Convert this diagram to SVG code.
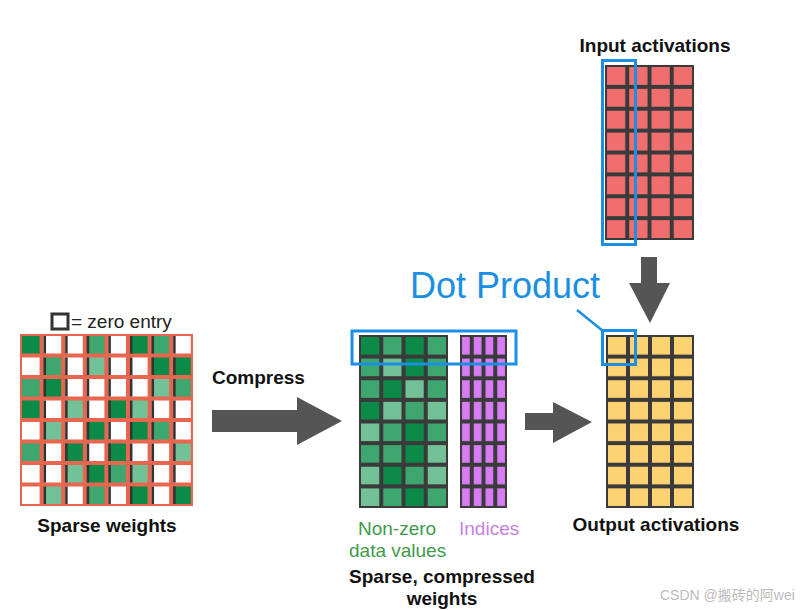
<svg xmlns="http://www.w3.org/2000/svg" width="810" height="610" viewBox="0 0 810 610">
<style>
.d{fill:#0b8a48}.m{fill:#3ea66f}.l{fill:#72c197}.w{fill:#ffffff}
.lbl{font-family:"Liberation Sans",Arial,sans-serif;font-weight:bold;fill:#111;font-size:19px}
.reg{font-family:"Liberation Sans",Arial,sans-serif;font-size:19px}
.hl{fill:none;stroke:#1a8fe3;stroke-width:3}
.arrow{fill:#555}
.dk{fill:#3a3a3a}
</style>
<defs>
<pattern id="pPur" patternUnits="userSpaceOnUse" x="460" y="335" width="11.75" height="21.625">
<rect x="2" y="2" width="7.75" height="17.6" fill="#d77cf2"/>
</pattern>
<pattern id="pIn" patternUnits="userSpaceOnUse" x="605" y="65" width="22.25" height="21.875">
<rect x="2" y="2" width="18.25" height="17.875" fill="#f06e6e"/>
</pattern>
<pattern id="pOut" patternUnits="userSpaceOnUse" x="606" y="335" width="22" height="21.625">
<rect x="2" y="2" width="18" height="17.6" fill="#fdd273"/>
</pattern>
</defs>
<rect width="810" height="610" fill="#ffffff"/>

<g id="sparse-weights">
<rect x="52" y="314" width="16" height="15" fill="#fff" stroke="#333" stroke-width="3"/>
<text class="reg" x="71" y="328" font-size="17" fill="#222">= zero entry</text>
<rect x="20" y="334" width="173" height="172" fill="#e8654f"/>
<g>
<rect class="d" x="22" y="336" width="17.6" height="17.5"/><rect class="w" x="43.6" y="336" width="17.6" height="17.5"/><rect class="w" x="65.2" y="336" width="17.6" height="17.5"/><rect class="m" x="86.8" y="336" width="17.6" height="17.5"/><rect class="w" x="108.4" y="336" width="17.6" height="17.5"/><rect class="d" x="130" y="336" width="17.6" height="17.5"/><rect class="m" x="151.6" y="336" width="17.6" height="17.5"/><rect class="w" x="173.2" y="336" width="17.6" height="17.5"/>
<rect class="w" x="22" y="357.5" width="17.6" height="17.5"/><rect class="m" x="43.6" y="357.5" width="17.6" height="17.5"/><rect class="w" x="65.2" y="357.5" width="17.6" height="17.5"/><rect class="l" x="86.8" y="357.5" width="17.6" height="17.5"/><rect class="w" x="108.4" y="357.5" width="17.6" height="17.5"/><rect class="w" x="130" y="357.5" width="17.6" height="17.5"/><rect class="d" x="151.6" y="357.5" width="17.6" height="17.5"/><rect class="d" x="173.2" y="357.5" width="17.6" height="17.5"/>
<rect class="m" x="22" y="379" width="17.6" height="17.5"/><rect class="d" x="43.6" y="379" width="17.6" height="17.5"/><rect class="w" x="65.2" y="379" width="17.6" height="17.5"/><rect class="w" x="86.8" y="379" width="17.6" height="17.5"/><rect class="w" x="108.4" y="379" width="17.6" height="17.5"/><rect class="w" x="130" y="379" width="17.6" height="17.5"/><rect class="l" x="151.6" y="379" width="17.6" height="17.5"/><rect class="m" x="173.2" y="379" width="17.6" height="17.5"/>
<rect class="d" x="22" y="400.5" width="17.6" height="17.5"/><rect class="w" x="43.6" y="400.5" width="17.6" height="17.5"/><rect class="l" x="65.2" y="400.5" width="17.6" height="17.5"/><rect class="w" x="86.8" y="400.5" width="17.6" height="17.5"/><rect class="d" x="108.4" y="400.5" width="17.6" height="17.5"/><rect class="l" x="130" y="400.5" width="17.6" height="17.5"/><rect class="w" x="151.6" y="400.5" width="17.6" height="17.5"/><rect class="w" x="173.2" y="400.5" width="17.6" height="17.5"/>
<rect class="w" x="22" y="422" width="17.6" height="17.5"/><rect class="l" x="43.6" y="422" width="17.6" height="17.5"/><rect class="w" x="65.2" y="422" width="17.6" height="17.5"/><rect class="d" x="86.8" y="422" width="17.6" height="17.5"/><rect class="w" x="108.4" y="422" width="17.6" height="17.5"/><rect class="d" x="130" y="422" width="17.6" height="17.5"/><rect class="m" x="151.6" y="422" width="17.6" height="17.5"/><rect class="w" x="173.2" y="422" width="17.6" height="17.5"/>
<rect class="m" x="22" y="443.5" width="17.6" height="17.5"/><rect class="w" x="43.6" y="443.5" width="17.6" height="17.5"/><rect class="d" x="65.2" y="443.5" width="17.6" height="17.5"/><rect class="w" x="86.8" y="443.5" width="17.6" height="17.5"/><rect class="d" x="108.4" y="443.5" width="17.6" height="17.5"/><rect class="w" x="130" y="443.5" width="17.6" height="17.5"/><rect class="w" x="151.6" y="443.5" width="17.6" height="17.5"/><rect class="l" x="173.2" y="443.5" width="17.6" height="17.5"/>
<rect class="w" x="22" y="465" width="17.6" height="17.5"/><rect class="w" x="43.6" y="465" width="17.6" height="17.5"/><rect class="l" x="65.2" y="465" width="17.6" height="17.5"/><rect class="d" x="86.8" y="465" width="17.6" height="17.5"/><rect class="m" x="108.4" y="465" width="17.6" height="17.5"/><rect class="l" x="130" y="465" width="17.6" height="17.5"/><rect class="w" x="151.6" y="465" width="17.6" height="17.5"/><rect class="w" x="173.2" y="465" width="17.6" height="17.5"/>
<rect class="w" x="22" y="486.5" width="17.6" height="17.5"/><rect class="l" x="43.6" y="486.5" width="17.6" height="17.5"/><rect class="w" x="65.2" y="486.5" width="17.6" height="17.5"/><rect class="m" x="86.8" y="486.5" width="17.6" height="17.5"/><rect class="w" x="108.4" y="486.5" width="17.6" height="17.5"/><rect class="d" x="130" y="486.5" width="17.6" height="17.5"/><rect class="w" x="151.6" y="486.5" width="17.6" height="17.5"/><rect class="d" x="173.2" y="486.5" width="17.6" height="17.5"/>
</g>
<g stroke="#333" stroke-width="2.5" stroke-dasharray="17.5 4">
<line x1="44.8" y1="336" x2="44.8" y2="504"/><line x1="66.4" y1="336" x2="66.4" y2="504"/><line x1="88" y1="336" x2="88" y2="504"/><line x1="109.6" y1="336" x2="109.6" y2="504"/><line x1="131.2" y1="336" x2="131.2" y2="504"/><line x1="152.8" y1="336" x2="152.8" y2="504"/><line x1="174.4" y1="336" x2="174.4" y2="504"/>
</g>
<text class="lbl" x="107" y="532" text-anchor="middle">Sparse weights</text>
</g>

<g id="compressed-weights">
<rect class="dk" x="359" y="335" width="89" height="173"/>
<rect class="d" x="361" y="337" width="18.25" height="17.6"/><rect class="m" x="383.25" y="337" width="18.25" height="17.6"/><rect class="d" x="405.5" y="337" width="18.25" height="17.6"/><rect class="m" x="427.75" y="337" width="18.25" height="17.6"/>
<rect class="m" x="361" y="358.6" width="18.25" height="17.6"/><rect class="l" x="383.25" y="358.6" width="18.25" height="17.6"/><rect class="d" x="405.5" y="358.6" width="18.25" height="17.6"/><rect class="m" x="427.75" y="358.6" width="18.25" height="17.6"/>
<rect class="m" x="361" y="380.25" width="18.25" height="17.6"/><rect class="d" x="383.25" y="380.25" width="18.25" height="17.6"/><rect class="l" x="405.5" y="380.25" width="18.25" height="17.6"/><rect class="m" x="427.75" y="380.25" width="18.25" height="17.6"/>
<rect class="d" x="361" y="401.9" width="18.25" height="17.6"/><rect class="l" x="383.25" y="401.9" width="18.25" height="17.6"/><rect class="m" x="405.5" y="401.9" width="18.25" height="17.6"/><rect class="l" x="427.75" y="401.9" width="18.25" height="17.6"/>
<rect class="l" x="361" y="423.5" width="18.25" height="17.6"/><rect class="m" x="383.25" y="423.5" width="18.25" height="17.6"/><rect class="d" x="405.5" y="423.5" width="18.25" height="17.6"/><rect class="m" x="427.75" y="423.5" width="18.25" height="17.6"/>
<rect class="m" x="361" y="445.1" width="18.25" height="17.6"/><rect class="m" x="383.25" y="445.1" width="18.25" height="17.6"/><rect class="d" x="405.5" y="445.1" width="18.25" height="17.6"/><rect class="l" x="427.75" y="445.1" width="18.25" height="17.6"/>
<rect class="l" x="361" y="466.75" width="18.25" height="17.6"/><rect class="d" x="383.25" y="466.75" width="18.25" height="17.6"/><rect class="m" x="405.5" y="466.75" width="18.25" height="17.6"/><rect class="l" x="427.75" y="466.75" width="18.25" height="17.6"/>
<rect class="l" x="361" y="488.4" width="18.25" height="17.6"/><rect class="m" x="383.25" y="488.4" width="18.25" height="17.6"/><rect class="d" x="405.5" y="488.4" width="18.25" height="17.6"/><rect class="m" x="427.75" y="488.4" width="18.25" height="17.6"/>
<rect class="dk" x="460" y="335" width="47" height="173"/>
<rect x="460" y="335" width="47" height="173" fill="url(#pPur)"/>
<rect class="hl" x="352" y="331" width="164" height="33"/>
<text class="reg" x="358" y="535" fill="#3f9a4c">Non-zero</text>
<text class="reg" x="349" y="557" fill="#3f9a4c">data values</text>
<text class="reg" x="459" y="535" fill="#c77fe6">Indices</text>
<text class="lbl" x="442" y="583" text-anchor="middle">Sparse, compressed</text>
<text class="lbl" x="442" y="605" text-anchor="middle">weights</text>
</g>

<g id="input-activations">
<text class="lbl" x="655" y="52" text-anchor="middle" font-size="18">Input activations</text>
<rect class="dk" x="605" y="65" width="89" height="175"/>
<rect x="605" y="65" width="89" height="175" fill="url(#pIn)"/>
<rect class="hl" x="602.5" y="60.5" width="33" height="184"/>
</g>

<g id="output-activations">
<rect class="dk" x="606" y="335" width="88" height="173"/>
<rect x="606" y="335" width="88" height="173" fill="url(#pOut)"/>
<rect class="hl" x="602.5" y="330.5" width="33" height="34"/>
<text class="lbl" x="656" y="531" text-anchor="middle">Output activations</text>
</g>

<g id="dot-product">
<text x="410" y="298" font-family="'Liberation Sans',Arial,sans-serif" font-size="36" fill="#1a8fe3">Dot Product</text>
</g>

<g id="connectors">
<text class="lbl" x="212" y="384" font-size="20">Compress</text>
<polygon class="arrow" points="212,410 297,410 297,397 342,421 297,445 297,432 212,432"/>
<polygon class="arrow" points="525,413 553,413 553,402 592,422 553,443 553,430 525,430"/>
<polygon class="arrow" points="641,257 657,257 657,283 670,283 650,323 629,283 641,283"/>
<line x1="577" y1="310" x2="603" y2="331" stroke="#1a8fe3" stroke-width="2.5"/>
</g>

<text x="660" y="600" font-family="'Liberation Sans','Noto Sans CJK SC',sans-serif" font-size="14" fill="#bbbbbb">CSDN @搬砖的阿wei</text>
</svg>
